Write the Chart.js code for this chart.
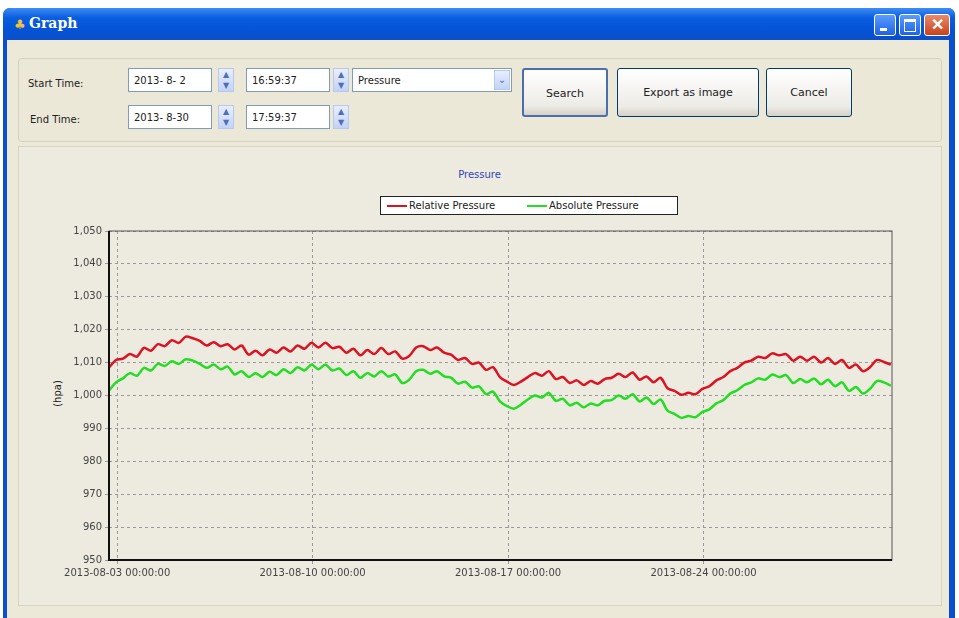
<!DOCTYPE html>
<html><head><meta charset="utf-8">
<script src="https://cdn.jsdelivr.net/npm/chart.js@4"></script>
<style>
body{margin:0;width:959px;height:618px;background:#fff;position:relative;overflow:hidden;font-family:Tahoma,"DejaVu Sans",sans-serif;font-size:10px;color:#222}
.abs{position:absolute}
#win{left:3px;top:8px;width:952px;height:610px;background:#0b4fd0;border-radius:7px 7px 0 0}
#title{left:3px;top:8px;width:952px;height:32px;border-radius:7px 7px 0 0;background:linear-gradient(#3d8df5,#0a5ee0 30%,#0552d6 70%,#0b4fc8)}
#body{left:7px;top:40px;width:942px;height:578px;background:#ece9d8}
.tb{width:20px;height:20px;top:14px;border:1px solid #fff;border-radius:3px;background:linear-gradient(#5a9cff,#1f62e6)}
.box{background:#fff;border:1px solid #7f9db9;height:24px;line-height:24px;padding-left:5px;box-sizing:border-box}
.spin{width:16px;height:24px;background:linear-gradient(#e8eefc,#c3d3f7);border:1px solid #b8c8ee;box-sizing:border-box;color:#4d6fb8;font-size:8px;text-align:center;line-height:11px}
.btn{border:1px solid #003c74;border-radius:3px;background:linear-gradient(#fff,#ecebe6 80%,#d6d0c5);text-align:center;box-sizing:border-box;font-size:11px}
</style></head><body>
<div id="win" class="abs"></div>
<div id="title" class="abs"></div>
<div class="abs" style="left:14px;top:17px;color:#f0c040;font-size:13px">♣</div>
<div class="abs" style="left:29px;top:15px;color:#fff;font:bold 14px 'DejaVu Serif',serif">Graph</div>
<div class="abs tb" style="left:874px"><div class="abs" style="left:5px;top:13px;width:7px;height:3px;background:#fff"></div></div>
<div class="abs tb" style="left:899px"><div class="abs" style="left:4px;top:4px;width:10px;height:9px;border:1px solid #fff;border-top-width:3px"></div></div>
<div class="abs tb" style="left:924px;width:24px;background:linear-gradient(#e88a6b,#c9421c);color:#fff;font:bold 16px sans-serif;text-align:center;line-height:20px">✕</div>
<div id="body" class="abs"></div>
<div class="abs" style="left:18px;top:58px;width:922px;height:82px;border:1px solid #d6d2c2;border-radius:4px;background:#ebe8d7"></div>
<div class="abs" style="left:28px;top:78px">Start Time:</div>
<div class="abs" style="left:30px;top:114px">End Time:</div>
<div class="abs box" style="left:128px;top:68px;width:84px">2013- 8- 2</div>
<div class="abs spin" style="left:218px;top:68px">▲<br>▼</div>
<div class="abs box" style="left:246px;top:68px;width:84px">16:59:37</div>
<div class="abs spin" style="left:333px;top:68px">▲<br>▼</div>
<div class="abs box" style="left:352px;top:68px;width:160px;font-size:10px">Pressure</div>
<div class="abs spin" style="left:494px;top:70px;height:20px;line-height:18px;font-size:10px">⌄</div>
<div class="abs box" style="left:128px;top:105px;width:84px">2013- 8-30</div>
<div class="abs spin" style="left:218px;top:105px">▲<br>▼</div>
<div class="abs box" style="left:246px;top:105px;width:84px">17:59:37</div>
<div class="abs spin" style="left:333px;top:105px">▲<br>▼</div>
<div class="abs btn" style="left:522px;top:68px;width:86px;height:49px;line-height:47px;border:2px solid #4a6fb0">Search</div>
<div class="abs btn" style="left:617px;top:68px;width:142px;height:49px;line-height:47px">Export as image</div>
<div class="abs btn" style="left:766px;top:68px;width:86px;height:49px;line-height:47px">Cancel</div>
<div class="abs" style="left:18px;top:146px;width:922px;height:458px;border:1px solid #d6d2c2;background:#edebdf"></div>
<div class="abs" style="left:0;width:959px;top:169px;text-align:center;color:#3344bb;font-size:10px">Pressure</div>
<div class="abs" style="left:380px;top:196px;width:296px;height:17px;border:1px solid #222;background:#fff;font-size:10px;line-height:17px">
 <span class="abs" style="left:6px;top:8px;width:20px;height:2px;background:#dd1122"></span><span class="abs" style="left:28px">Relative Pressure</span>
 <span class="abs" style="left:146px;top:8px;width:20px;height:2px;background:#22dd22"></span><span class="abs" style="left:168px">Absolute Pressure</span>
</div>
<div class="abs" style="left:44px;top:388px;transform:rotate(-90deg);font-size:10px">(hpa)</div>
<canvas id="c" class="abs" style="left:20px;top:150px;width:915px;height:450px"></canvas>
<script>
const startLabel='2013-08-02 17:00';
const stepDays=0.25;
const tickLabels=['2013-08-03 00:00:00','2013-08-10 00:00:00','2013-08-17 00:00:00','2013-08-24 00:00:00'];
const tickDays=[7/24,7+7/24,14+7/24,21+7/24];
const yTicks=[950,960,970,980,990,1000,1010,1020,1030,1040,1050];
const relative=[1008.5,1010.8,1011.2,1012.6,1011.8,1014.5,1013.6,1015.6,
1015.0,1016.8,1016.0,1017.9,1017.4,1016.6,1015.2,1016.2,
1015.0,1015.6,1014.0,1015.2,1012.4,1013.6,1012.2,1014.0,
1013.0,1014.6,1013.4,1015.2,1014.2,1016.0,1014.6,1016.0,
1014.4,1014.8,1013.0,1014.2,1012.2,1013.8,1012.6,1014.4,
1012.6,1013.4,1011.2,1012.0,1014.6,1015.0,1013.8,1014.6,
1013.0,1012.4,1010.8,1011.4,1009.6,1010.0,1007.8,1008.6,
1005.6,1004.2,1003.2,1004.2,1005.6,1006.8,1006.0,1007.4,
1005.0,1005.6,1003.8,1004.6,1003.2,1004.4,1003.6,1005.0,
1005.4,1006.6,1005.6,1007.0,1004.8,1005.8,1004.0,1005.4,
1002.2,1001.4,1000.2,1000.8,1000.4,1002.0,1002.8,1004.6,
1005.6,1007.4,1008.4,1010.0,1010.6,1011.8,1011.4,1012.8,
1012.2,1012.6,1010.6,1011.8,1010.6,1011.8,1010.0,1011.4,
1009.6,1010.8,1008.4,1009.4,1007.4,1008.6,1010.8,1010.2,1009.4];
const absolute=[1001.5,1004.0,1005.2,1006.8,1006.0,1008.4,1007.6,1009.6,
1009.0,1010.4,1009.6,1011.0,1010.6,1009.6,1008.4,1009.4,
1008.0,1008.8,1006.4,1007.4,1005.6,1006.8,1005.6,1007.2,
1006.2,1008.0,1006.8,1008.6,1007.6,1009.4,1008.0,1009.4,
1007.6,1008.2,1006.2,1007.4,1005.4,1006.8,1005.8,1007.4,
1005.8,1006.4,1003.8,1004.8,1007.4,1007.8,1006.6,1007.4,
1005.8,1005.4,1003.6,1004.2,1002.4,1002.8,1000.4,1001.2,
998.2,996.8,996.0,997.2,998.8,1000.0,999.4,1000.8,
998.4,999.0,997.0,997.8,996.4,997.6,997.0,998.4,
998.6,1000.0,999.0,1000.4,998.2,999.4,997.4,998.8,
995.4,994.4,993.2,993.8,993.4,995.0,995.8,997.6,
998.6,1000.6,1001.6,1003.2,1004.0,1005.2,1004.8,1006.4,
1005.6,1006.2,1003.8,1005.0,1004.0,1005.2,1003.4,1004.8,
1002.8,1004.0,1001.4,1002.6,1000.6,1002.0,1004.4,1004.0,1003.0];
const toPts=a=>a.map((v,i)=>({x:i*stepDays,y:v}));
const frame={id:'frame',afterDatasetsDraw(ch){const {ctx,chartArea:a}=ch;ctx.save();ctx.strokeStyle='#555';ctx.lineWidth=1;ctx.strokeRect(a.left,a.top,a.right-a.left,a.bottom-a.top);ctx.strokeStyle='#111';ctx.lineWidth=2;ctx.beginPath();ctx.moveTo(a.left,a.top);ctx.lineTo(a.left,a.bottom);ctx.lineTo(a.right,a.bottom);ctx.stroke();ctx.restore();}};
const tickFont={size:10,family:'Tahoma, DejaVu Sans'};
new Chart(document.getElementById('c'),{type:'line',
data:{datasets:[
{label:'Relative Pressure',data:toPts(relative),borderColor:'#dd1122',borderWidth:2.5,pointRadius:0,tension:0.3},
{label:'Absolute Pressure',data:toPts(absolute),borderColor:'#22dd22',borderWidth:2.5,pointRadius:0,tension:0.3}]},
options:{responsive:false,animation:false,devicePixelRatio:1,
layout:{padding:{top:81,right:43,left:0,bottom:0}},
plugins:{legend:{display:false},tooltip:{enabled:false}},
scales:{
x:{type:'linear',min:0,max:28.04,
 afterBuildTicks(s){s.ticks=tickDays.map(v=>({value:v}));},
 afterFit(s){s.height=40;},
 ticks:{autoSkip:false,maxRotation:0,color:'#444',font:tickFont,callback:(v,i)=>tickLabels[i]},
 grid:{color:'#999',tickLength:4},border:{display:false,dash:[3,3]}},
y:{min:950,max:1050,
 afterBuildTicks(s){s.ticks=yTicks.map(v=>({value:v}));},
 afterFit(s){s.width=89;},
 ticks:{color:'#444',font:tickFont,callback:v=>v.toLocaleString('en-US')},
 grid:{color:'#999',tickLength:4},border:{display:false,dash:[3,3]}}}},
plugins:[frame]});
</script></body></html>
